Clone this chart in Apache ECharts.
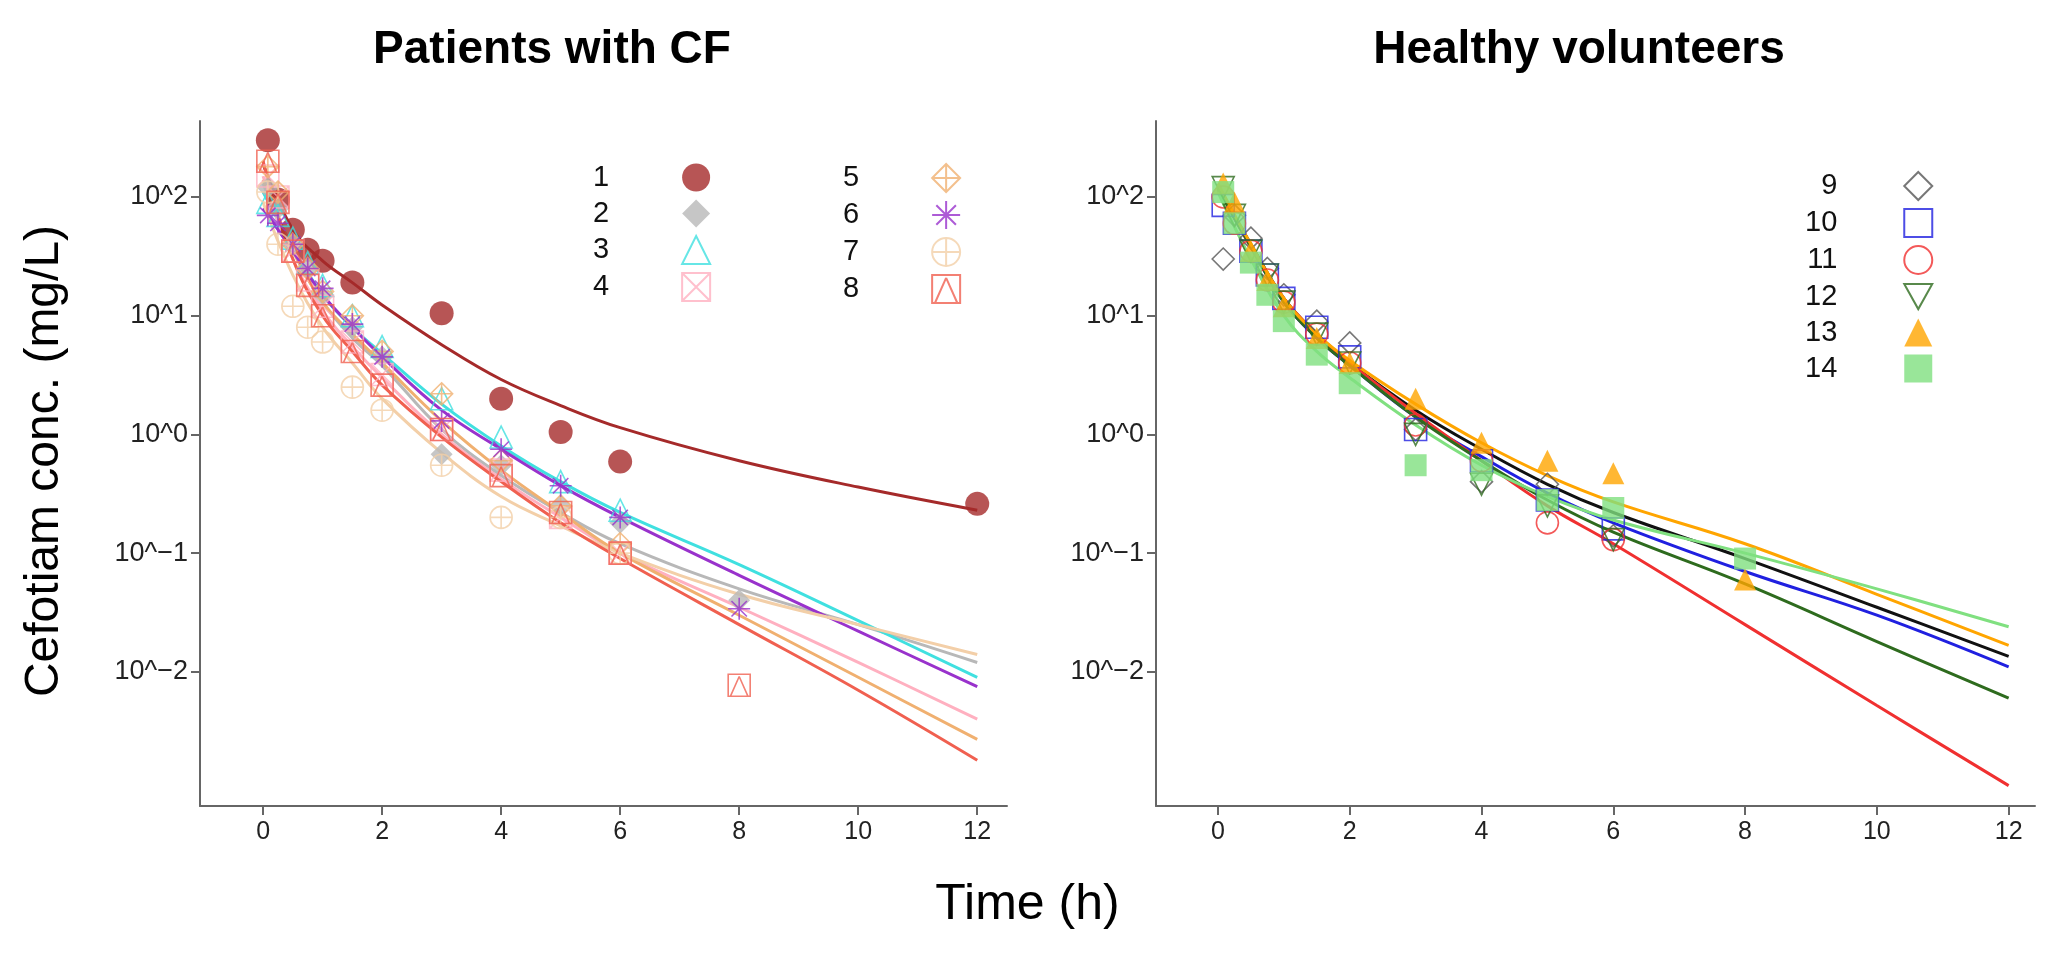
<!DOCTYPE html>
<html>
<head>
    <meta http-equiv="Content-Type" content="text/html; charset=UTF-8">
    <title>Cefotiam</title>
    <script src="https://cdn.jsdelivr.net/npm/echarts@6/dist/echarts.min.js"></script>
    <style>html,body{margin:0;background:#fff;}</style>
</head>
<body>
    <div id="main" style="width: 2055px;height:973px;"></div>

    <script type="text/javascript">
        // observation times (h) and fitted-curve times (h)
        var obsTimes = [0.08, 0.25, 0.5, 0.75, 1, 1.5, 2, 3, 4, 5, 6, 8, 12];
        var fitTimes = [0, 0.5, 1, 1.5, 2, 3, 4, 5, 6, 8, 10, 12];
        var yTicks = [-2, -1, 0, 1, 2];
        var xTicks = [0, 2, 4, 6, 8, 10, 12];

        // observed concentrations (mg/L), null = not sampled
        var obs1 = [300, 95, 53, 36, 29, 19, null, 10.5, 2.0, 1.05, 0.59, null, 0.26];
        var obs2 = [120, 80, 40, 25, 15, 8, 4.5, 0.68, 0.55, 0.25, 0.18, 0.04, null];
        var obs3 = [90, 70, 45, 28, 18, 10, 5.5, 2.0, 0.95, 0.4, 0.23, null, null];
        var obs4 = [150, 100, 35, 20, 12, 6, 3.2, 1.1, 0.5, 0.2, 0.1, null, null];
        var obs5 = [180, 110, 40, 25, 16, 10, 5, 2.2, 0.6, 0.25, 0.12, null, null];
        var obs6 = [70, 60, 40, 25, 17, 8.5, 4.5, 1.3, 0.75, 0.37, 0.2, 0.034, null];
        var obs7 = [110, 40, 12, 8, 6, 2.5, 1.6, 0.55, 0.2, 0.2, 0.1, null, null];
        var obs8 = [200, 90, 35, 18, 10, 5, 2.6, 1.1, 0.45, 0.22, 0.1, 0.0077, null];
        var obs9 = [30, 70, 45, 25, 15, 9, 5.9, 1.1, 0.4, 0.38, 0.14, null, null];
        var obs10 = [85, 60, 35, 22, 14, 8, 4.5, 1.1, 0.6, 0.28, 0.16, null, null];
        var obs11 = [100, 60, 35, 20, 13, 7, 4, 1.2, 0.6, 0.18, 0.13, null, null];
        var obs12 = [120, 70, 35, 22, 13, 7, 4, 1.0, 0.38, 0.25, 0.13, null, null];
        var obs13 = [130, 90, 35, 20, 12, 6.5, 4, 2.0, 0.85, 0.6, 0.47, 0.06, null];
        var obs14 = [110, 60, 28, 15, 9, 4.7, 2.7, 0.55, 0.5, 0.28, 0.24, 0.09, null];

        // fitted curves (mg/L) at fitTimes
        var fit1 = [190, 53, 29, 19, 12.3, 5.7, 2.9, 1.75, 1.14, 0.6, 0.36, 0.23];
        var fit2 = [130, 35, 13, 6.5, 3.8, 1.1, 0.45, 0.22, 0.12, 0.05, 0.025, 0.012];
        var fit3 = [110, 38, 15, 8, 4.8, 1.8, 0.8, 0.4, 0.22, 0.08, 0.027, 0.009];
        var fit4 = [150, 30, 11, 5.5, 3, 1.0, 0.42, 0.2, 0.1, 0.035, 0.012, 0.004];
        var fit5 = [140, 36, 13, 7, 4, 1.3, 0.5, 0.22, 0.1, 0.03, 0.009, 0.0027];
        var fit6 = [80, 35, 15, 8, 4.5, 1.6, 0.75, 0.37, 0.2, 0.065, 0.022, 0.0075];
        var fit7 = [90, 22, 8, 4, 2, 0.7, 0.3, 0.17, 0.1, 0.045, 0.025, 0.014];
        var fit8 = [200, 30, 10, 5, 2.6, 0.95, 0.4, 0.18, 0.09, 0.025, 0.007, 0.0018];
        var fit9 = [120, 40, 14, 7, 4, 1.6, 0.75, 0.38, 0.22, 0.09, 0.035, 0.0135];
        var fit10 = [115, 38, 13, 6.5, 3.8, 1.4, 0.65, 0.32, 0.18, 0.07, 0.03, 0.011];
        var fit11 = [120, 38, 14, 7, 4, 1.5, 0.6, 0.25, 0.12, 0.025, 0.0052, 0.0011];
        var fit12 = [120, 38, 13, 6.5, 3.8, 1.4, 0.6, 0.28, 0.15, 0.055, 0.018, 0.006];
        var fit13 = [130, 40, 14, 7, 4.2, 1.8, 0.85, 0.45, 0.27, 0.12, 0.045, 0.0167];
        var fit14 = [110, 30, 10, 5, 3, 1.2, 0.55, 0.3, 0.19, 0.1, 0.05, 0.024];

        var obsAll = [obs1, obs2, obs3, obs4, obs5, obs6, obs7, obs8, obs9, obs10, obs11, obs12, obs13, obs14];
        var fitAll = [fit1, fit2, fit3, fit4, fit5, fit6, fit7, fit8, fit9, fit10, fit11, fit12, fit13, fit14];

        var colors = ['#a52a2a', '#b8b8b8', '#40e0e0', '#ffb0c0', '#f0b070', '#9932cc', '#f3cfa8', '#f06050',
                      '#555555', '#2020e0', '#f03030', '#2e6b1e', '#ffa500', '#80e080'];
        var lineColors = colors.slice();
        lineColors[8] = '#111111';
        var symbols = [
            'circle', 'diamond', 'triangle',
            'path://M0,0L10,0L10,10L0,10Z M0,0L10,10 M10,0L0,10',
            'path://M5,0L10,5L5,10L0,5Z M5,0L5,10 M0,5L10,5',
            'path://M5,0L5,10 M0,5L10,5 M1.5,1.5L8.5,8.5 M8.5,1.5L1.5,8.5',
            'path://M0,5A5,5,0,1,1,10,5A5,5,0,1,1,0,5Z M5,0L5,10 M0,5L10,5',
            'path://M0,0L10,0L10,10L0,10Z M5,1L9,10 M5,1L1,10',
            'diamond', 'rect', 'circle', 'path://M0,0L10,0L5,9Z', 'triangle', 'rect'
        ];
        var filled = [true, true, false, false, false, false, false, false, false, false, false, false, true, true];

        function lg(v) { return Math.log(v) / Math.LN10; }

        var series = [];
        for (var i = 0; i < 14; i++) {
            var gi = i < 8 ? 0 : 1;
            series.push({
                type: 'line', xAxisIndex: gi, yAxisIndex: gi, smooth: 0.4, showSymbol: false,
                silent: true, z: 2,
                lineStyle: { color: lineColors[i], width: 3 },
                data: fitTimes.map(function (t, k) { return [t, lg(fitAll[i][k])]; })
            });
        }
        for (var j = 0; j < 14; j++) {
            var g = j < 8 ? 0 : 1;
            var pts = [];
            obsTimes.forEach(function (t, k) {
                if (obsAll[j][k] != null) pts.push([t, lg(obsAll[j][k])]);
            });
            series.push({
                name: String(j + 1), type: 'scatter', xAxisIndex: g, yAxisIndex: g, z: 3,
                symbol: symbols[j], symbolSize: j === 0 ? 24 : 22,
                itemStyle: filled[j] ? { color: colors[j] } :
                    { color: 'rgba(255,255,255,0)', borderColor: colors[j], borderWidth: 1.6 },
                data: pts
            });
        }

        function yAx(gi) {
            return {
                type: 'value', gridIndex: gi, min: -3.13, max: 2.64,
                splitLine: { show: false },
                axisLine: { show: true, onZero: false, lineStyle: { color: '#666', width: 2 } },
                axisTick: { show: true, customValues: yTicks, length: 9, lineStyle: { color: '#666', width: 2 } },
                axisLabel: { customValues: yTicks, fontSize: 27, color: '#222', fontFamily: 'Liberation Sans', margin: 12,
                    formatter: function (v) { return '10^' + String(v).replace('-', '\u2212'); } }
            };
        }
        function xAx(gi, mn, mx) {
            return {
                type: 'value', gridIndex: gi, min: mn, max: mx,
                splitLine: { show: false },
                axisLine: { show: true, onZero: false, lineStyle: { color: '#666', width: 2 } },
                axisTick: { show: true, customValues: xTicks, length: 9, lineStyle: { color: '#666', width: 2 } },
                axisLabel: { customValues: xTicks, fontSize: 25, color: '#222', fontFamily: 'Liberation Sans', margin: 14 }
            };
        }
        function leg(names, left, top, gap) {
            return {
                data: names, orient: 'vertical', left: left, top: top, align: 'right',
                itemGap: 7, itemWidth: 28, itemHeight: 28,
                textStyle: { fontSize: 29, color: '#111', fontFamily: 'Liberation Sans', padding: [0, gap, 0, 0] }
            };
        }

        var myChart = echarts.init(document.getElementById('main'));
        myChart.setOption({
            animation: false,
            title: [
                { text: 'Patients with CF', left: 547, top: 22, textAlign: 'center',
                  textStyle: { fontSize: 46, fontWeight: 'bold', color: '#000', fontFamily: 'Liberation Sans' } },
                { text: 'Healthy volunteers', left: 1574, top: 22, textAlign: 'center',
                  textStyle: { fontSize: 46, fontWeight: 'bold', color: '#000', fontFamily: 'Liberation Sans' } }
            ],
            legend: [
                leg(['1', '2', '3', '4'], 588, 158, 68),
                leg(['5', '6', '7', '8'], 838, 158, 68),
                leg(['9', '10', '11', '12', '13', '14'], 1800, 166, 62)
            ],
            grid: [
                { left: 200, top: 121, width: 807, height: 685 },
                { left: 1156, top: 121, width: 879, height: 685 }
            ],
            xAxis: [xAx(0, -1.06, 12.5), xAx(1, -0.94, 12.4)],
            yAxis: [yAx(0), yAx(1)],
            graphic: [
                { type: 'text', rotation: Math.PI / 2,
                  style: { text: 'Cefotiam conc. (mg/L)', fontSize: 48, fill: '#000', fontFamily: 'Liberation Sans',
                           textAlign: 'center', textVerticalAlign: 'middle' },
                  x: 45, y: 461 },
                { type: 'text', left: 'center', top: 880,
                  style: { text: 'Time (h)', fontSize: 50, fill: '#000', fontFamily: 'Liberation Sans' } }
            ],
            series: series
        });
    </script>
</body>
</html>
